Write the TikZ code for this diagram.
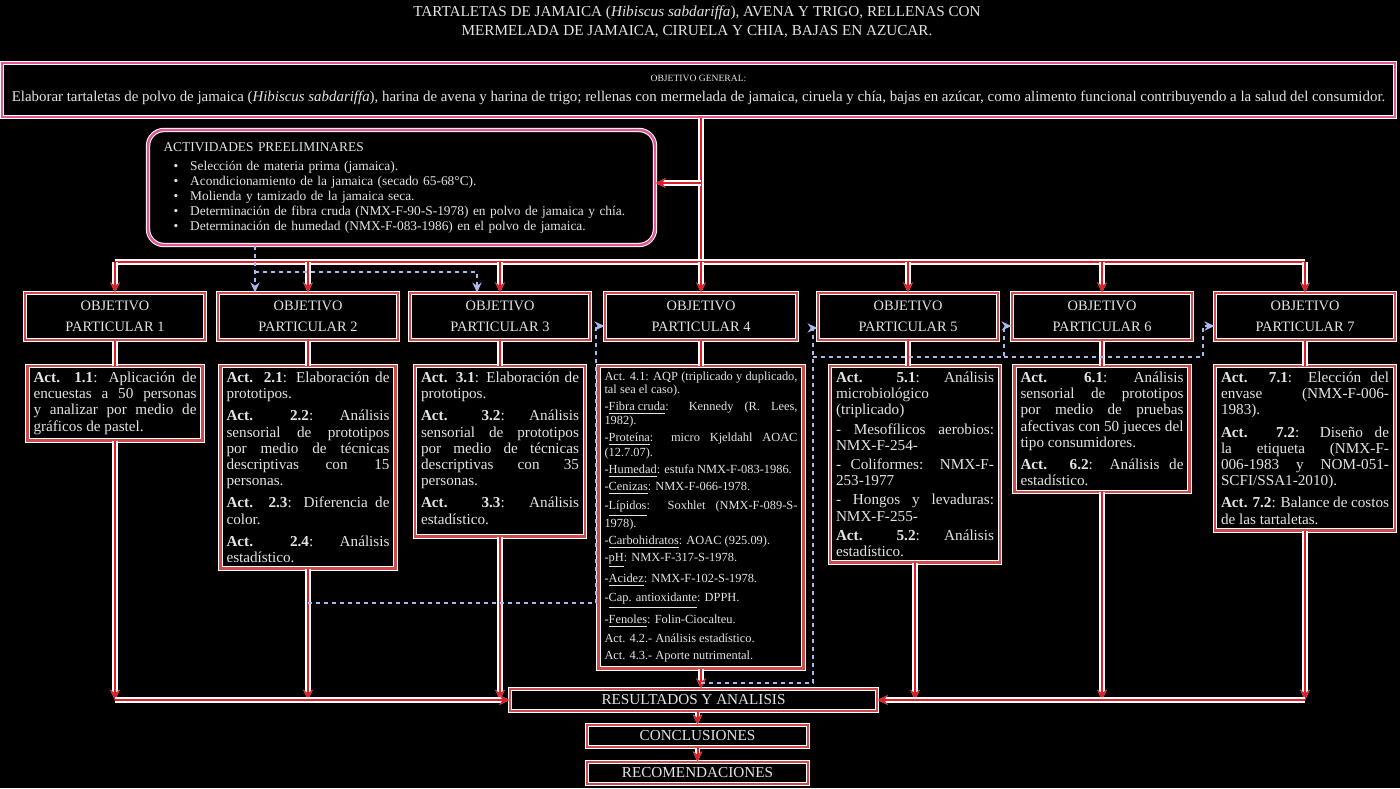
\documentclass[tikz,border=0pt]{standalone}
\usepackage{fontspec}
\setmainfont{Liberation Serif}
\usetikzlibrary{arrows.meta, positioning, calc}
\definecolor{boxred}{RGB}{205, 75, 75}
\definecolor{linered}{RGB}{225, 30, 40}
\definecolor{mainpink}{RGB}{230, 85, 145}
\definecolor{dotblue}{RGB}{170, 185, 235}
\definecolor{ink}{RGB}{228, 228, 228}
\hyphenpenalty=10000
\tolerance=9999
\emergencystretch=8pt
\newcommand{\actsep}{\par\vspace{3pt}}
\newcommand{\subsep}{\par\vspace{2.2pt}}

\begin{document}
\begin{tikzpicture}[x=0.5pt, y=-0.5pt, node distance=12.5pt,
  >={Stealth[length=5pt, width=4.6pt]},
  every node/.style={text=ink, inner sep=3pt},
  opbox/.style={draw=white, double=boxred, double distance=1.3pt, line width=0.5pt, minimum width=90pt, minimum height=23.5pt, align=center, font=\fontsize{7.2}{10.5}\selectfont},
  actbox/.style={draw=white, double=boxred, double distance=1.3pt, line width=0.5pt, align=justify, font=\fontsize{7.6}{8.1}\selectfont},
  endbox/.style={draw=white, double=boxred, double distance=1.3pt, line width=0.5pt, minimum height=11pt, inner sep=1pt, font=\fontsize{7.6}{8}\selectfont},
  pinkbox/.style={draw=white, double=mainpink, double distance=1.2pt, line width=0.5pt},
  redline/.style={linered, line width=1pt, preaction={draw=white, line width=2.6pt}},
  bluedot/.style={dotblue, line width=1pt, dash pattern=on 2pt off 2pt}]
\fill[black] (0,0) rectangle (1400,788);
\useasboundingbox (0,0) rectangle (1400,788);

% titulo y objetivo general
\node[align=center, font=\fontsize{7.6}{9.5}\selectfont] (title) at (697,22) {TARTALETAS DE JAMAICA (\textit{Hibiscus sabdariffa}), AVENA Y TRIGO, RELLENAS CON\\ MERMELADA DE JAMAICA, CIRUELA Y CHIA, BAJAS EN AZUCAR.};
\node[pinkbox, minimum width=696.5pt, minimum height=27pt, align=center, font=\fontsize{7.45}{10}\selectfont] (gen) at (698.5,90) {{\fontsize{4.8}{6}\selectfont OBJETIVO GENERAL:}\\ Elaborar tartaletas de polvo de jamaica (\textit{Hibiscus sabdariffa}), harina de avena y harina de trigo; rellenas con mermelada de jamaica, ciruela y chía, bajas en azúcar, como alimento funcional contribuyendo a la salud del consumidor.};

% actividades preliminares
\node[pinkbox, rounded corners=8pt, minimum width=253.5pt, minimum height=57.5pt, text width=238pt, inner xsep=7pt, align=left, font=\fontsize{6.7}{7.5}\selectfont] (prelim) at (401.5,187.5) {ACTIVIDADES PREELIMINARES\\[2pt]
\hspace*{5pt}\textbullet\hspace{6pt}Selección de materia prima (jamaica).\\
\hspace*{5pt}\textbullet\hspace{6pt}Acondicionamiento de la jamaica (secado 65-68°C).\\
\hspace*{5pt}\textbullet\hspace{6pt}Molienda y tamizado de la jamaica seca.\\
\hspace*{5pt}\textbullet\hspace{6pt}Determinación de fibra cruda (NMX-F-90-S-1978) en polvo de jamaica y chía.\\
\hspace*{5pt}\textbullet\hspace{6pt}Determinación de humedad (NMX-F-083-1986) en el polvo de jamaica.};

% objetivos particulares
\node[opbox] (op1) at (115,316.5) {OBJETIVO\\ PARTICULAR 1};
\node[opbox] (op2) at (308,316.5) {OBJETIVO\\ PARTICULAR 2};
\node[opbox] (op3) at (500,316.5) {OBJETIVO\\ PARTICULAR 3};
\node[opbox, minimum width=96pt] (op4) at (701,316.5) {OBJETIVO\\ PARTICULAR 4};
\node[opbox] (op5) at (908,316.5) {OBJETIVO\\ PARTICULAR 5};
\node[opbox] (op6) at (1102,316.5) {OBJETIVO\\ PARTICULAR 6};
\node[opbox] (op7) at (1305,316.5) {OBJETIVO\\ PARTICULAR 7};

% actividades
\node[actbox, text width=81.5pt, below=of op1] (act1) {\textbf{Act. 1.1}: Aplicación de encuestas a 50 personas y analizar por medio de gráficos de pastel.};
\node[actbox, text width=81.5pt, below=of op2] (act2) {\textbf{Act. 2.1}: Elaboración de prototipos.\actsep
\textbf{Act. 2.2}: Análisis sensorial de prototipos por medio de técnicas descriptivas con 15 personas.\actsep
\textbf{Act. 2.3}: Diferencia de color.\actsep
\textbf{Act. 2.4}: Análisis estadístico.};
\node[actbox, text width=79pt, below=of op3] (act3) {\textbf{Act. 3.1}: Elaboración de prototipos.\actsep
\textbf{Act. 3.2}: Análisis sensorial de prototipos por medio de técnicas descriptivas con 35 personas.\actsep
\textbf{Act. 3.3}: Análisis estadístico.\vspace{3pt}};
\node[actbox, text width=96.5pt, below=of op4, font=\fontsize{6.2}{6.3}\selectfont] (act4) {Act. 4.1: AQP (triplicado y duplicado, tal sea el caso).\subsep
-\underline{Fibra cruda}: Kennedy (R. Lees, 1982).\subsep
-\underline{Proteína}: micro Kjeldahl AOAC (12.7.07).\subsep
-\underline{Humedad}: estufa NMX-F-083-1986.\subsep
-\underline{Cenizas}: NMX-F-066-1978.\subsep
-\underline{Lípidos}: Soxhlet (NMX-F-089-S-1978).\subsep
-\underline{Carbohidratos}: AOAC (925.09).\subsep
-\underline{pH}: NMX-F-317-S-1978.\subsep
-\underline{Acidez}: NMX-F-102-S-1978.\subsep
-\underline{Cap. antioxidante}: DPPH.\subsep
-\underline{Fenoles}: Folin-Ciocalteu.\subsep
Act. 4.2.- Análisis estadístico.\subsep
Act. 4.3.- Aporte nutrimental.};
\node[actbox, text width=79pt, below=of op5, xshift=3.5pt] (act5) {\textbf{Act. 5.1}: Análisis microbiológico (triplicado)\par\vspace{1.5pt}
- Mesofílicos aerobios: NMX-F-254-\par\vspace{1.5pt}
- Coliformes: NMX-F-253-1977\par\vspace{1.5pt}
- Hongos y levaduras: NMX-F-255-\par\vspace{1.5pt}
\textbf{Act. 5.2}: Análisis estadístico.};
\node[actbox, text width=81.5pt, below=of op6] (act6) {\textbf{Act. 6.1}: Análisis sensorial de prototipos por medio de pruebas afectivas con 50 jueces del tipo consumidores.\actsep
\textbf{Act. 6.2}: Análisis de estadístico.};
\node[actbox, text width=84pt, below=of op7] (act7) {\textbf{Act. 7.1}: Elección del envase (NMX-F-006-1983).\actsep
\textbf{Act. 7.2}: Diseño de la etiqueta (NMX-F-006-1983 y NOM-051-SCFI/SSA1-2010).\actsep
\textbf{Act. 7.2}: Balance de costos de las tartaletas.};

% cierre
\node[endbox, minimum width=183.5pt] (res) at (693.5,700) {RESULTADOS Y ANALISIS};
\node[endbox, minimum width=110.5pt, below=6.5pt of res, xshift=2pt] (conc) {CONCLUSIONES};
\node[endbox, minimum width=110.5pt, below=7pt of conc] (rec) {RECOMENDACIONES};

% conectores
\coordinate (bus) at (701,262);
\coordinate (tap) at (701,183);
\draw[redline] (gen.south -| op4.north) -- (op4.north |- bus);
\draw[redline, ->] (tap) -- (tap -| prelim.east);
\draw[redline] (op1.north |- bus) -- (op7.north |- bus);
\foreach \i in {1,...,7} {
  \draw[redline, ->] (op\i.north |- bus) -- (op\i.north);
  \draw[redline] (op\i.south) -- (op\i.south |- act\i.north);
}
\foreach \i in {1,2,3,5,6,7}
  \draw[redline, ->] (act\i.south) -- (act\i.south |- res.west);
\draw[redline, ->] (act1.south |- res.west) -- (res.west);
\draw[redline, ->] (act7.south |- res.east) -- (res.east);
\draw[redline, ->] (act4.south) -- (act4.south |- res.north);
\draw[redline, ->] (conc.north |- res.south) -- (conc.north);
\draw[redline, ->] (conc.south) -- (rec.north);

% lineas punteadas
\coordinate (pb) at (255,272);
\coordinate (pc) at (477,272);
\draw[bluedot, ->] (prelim.south -| pb) -- (op2.north -| pb);
\draw[bluedot, ->] (pb) -- (pc) -- (op3.north -| pc);
\coordinate (q) at (596,603);
\draw[bluedot, ->] (act2.south |- q) -- (q) -- (q |- 0,326) -- (op4.west |- 0,326);
\coordinate (r) at (813,683);
\coordinate (s1) at (813,357);
\coordinate (s2) at (1004,357);
\coordinate (s3) at (1203,357);
\draw[bluedot, ->] (act4.south |- r) -- (r) -- (r |- 0,328) -- (op5.west |- 0,328);
\draw[bluedot, ->] (s1) -- (s2) -- (s2 |- 0,326) -- (op6.west |- 0,326);
\draw[bluedot, ->] (s2) -- (s3) -- (s3 |- 0,326) -- (op7.west |- 0,326);
\end{tikzpicture}
\end{document}
